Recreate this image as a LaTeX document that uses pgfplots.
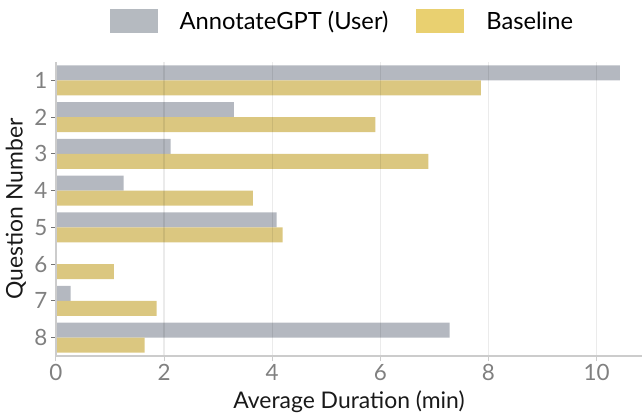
\documentclass[border=0pt]{standalone}
\usepackage{fontspec}
\setmainfont{Lato}
\usepackage{pgfplots}
\pgfplotsset{compat=1.18}
\definecolor{bargray}{HTML}{B4B8C0}
\definecolor{baryellow}{HTML}{DBC780}
\definecolor{leggray}{HTML}{B5BAC0}
\definecolor{legyellow}{HTML}{E9D070}
\definecolor{ticklab}{HTML}{808080}
\newcommand{\chartfont}{\fontsize{22.5}{26}\selectfont}
\newcommand{\labfont}{\fontsize{23}{27}\selectfont}
\newcommand{\legfont}{\fontsize{23.8}{28}\selectfont}
\begin{document}
\begin{tikzpicture}
\begin{axis}[
  scale only axis,
  width=586bp, height=294bp,
  xbar, bar width=15bp,
  xmin=0, xmax=10.84,
  ymin=0.5, ymax=8.5, y dir=reverse,
  ytick={1,2,3,4,5,6,7,8},
  xtick={0,2,4,6,8,10},
  /pgf/number format/assume math mode=true,
  axis lines*=left,
  axis line style={draw=black!20, line width=1.2bp},
  tick align=outside, major tick length=5bp,
  xtick style={draw=black!20, line width=1bp},
  ytick style={draw=black!55, line width=1bp},
  xmajorgrids,
  grid style={draw=black, opacity=0.08, line width=1.3bp},
  axis on top,
  tick label style={font=\chartfont, text=ticklab},
  every axis x label/.style={at={(axis description cs:0.5,0)}, yshift=-46bp, anchor=center, font=\labfont, text=black!90},
  every axis y label/.style={at={(axis description cs:0,0.5)}, xshift=-40bp, rotate=90, anchor=center, font=\labfont, text=black!90},
  xlabel={Average Duration (min)},
  ylabel={Question Number},
  legend columns=2,
  legend style={at={(0.487,1.139)}, anchor=center, draw=none, fill=none,
    font=\legfont, nodes={inner xsep=0pt, inner ysep=1bp},
    /tikz/every odd column/.append style={column sep=22bp},
    /tikz/every even column/.append style={column sep=28bp}},
]
\addplot[draw=none, fill=bargray, bar shift=7.5bp,
  legend image code/.code={\fill[leggray] (0bp,-12bp) rectangle (48bp,12bp);}]
  coordinates {(10.43,1) (3.29,2) (2.12,3) (1.25,4) (4.08,5) (0,6) (0.27,7) (7.28,8)};
\addlegendentry{AnnotateGPT (User)}
\addplot[draw=none, fill=baryellow, bar shift=-7.5bp,
  legend image code/.code={\fill[legyellow] (0bp,-12bp) rectangle (48bp,12bp);}]
  coordinates {(7.86,1) (5.91,2) (6.89,3) (3.64,4) (4.19,5) (1.07,6) (1.86,7) (1.64,8)};
\addlegendentry{Baseline}
\end{axis}
\pgfresetboundingbox
\useasboundingbox (-56bp,-60bp) rectangle (586bp,356bp);
\end{tikzpicture}
\end{document}
